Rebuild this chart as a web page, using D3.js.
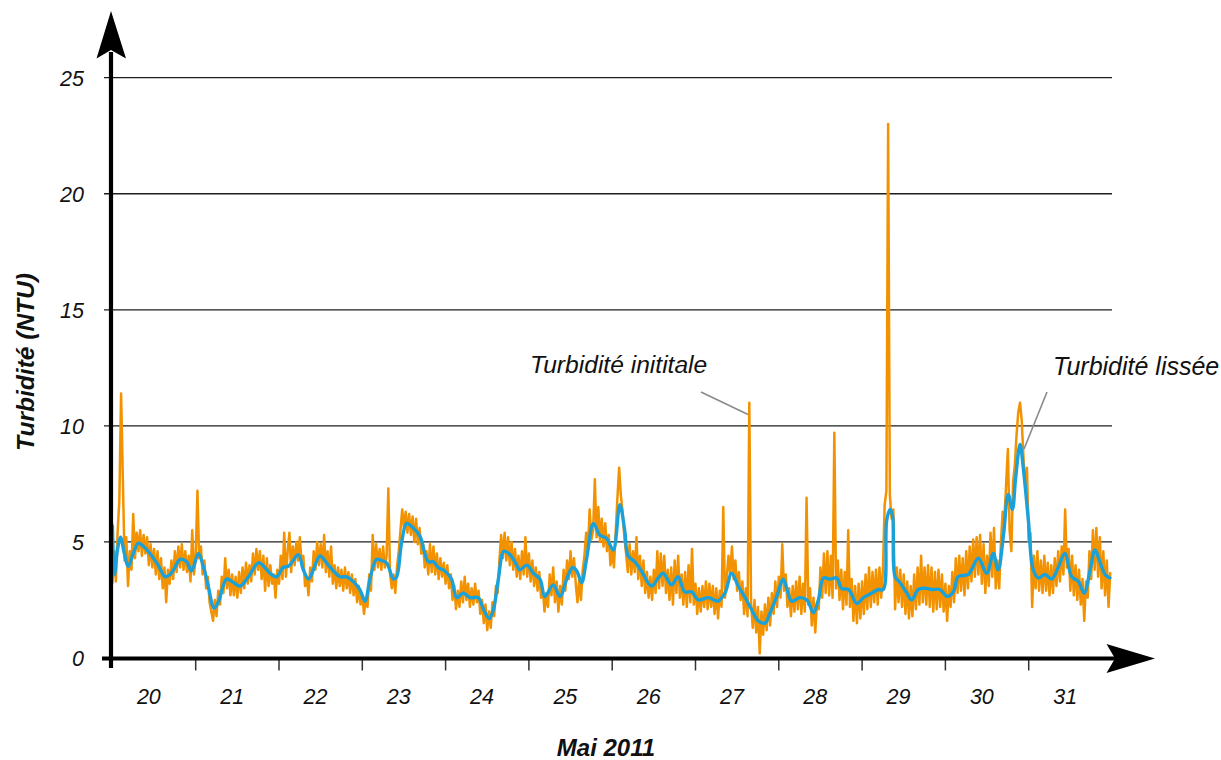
<!DOCTYPE html>
<html>
<head>
<meta charset="utf-8">
<script src="https://cdn.jsdelivr.net/npm/d3@7"></script>
<style>
  html, body { margin: 0; padding: 0; background: #fff; }
  svg text { font-family: "Liberation Sans", Arial, sans-serif; font-style: italic; fill: #111; }
</style>
</head>
<body>
<svg id="chart" width="1221" height="760"></svg>
<script>
// Day-of-month labels along the time axis (May 2011)
const dayLabels = ["20","21","22","23","24","25","26","27","28","29","30","31"];
const yTickValues = [0, 5, 10, 15, 20, 25];
const yGridValues = [5, 10, 15, 20, 25];

// Raw turbidity (NTU), one reading every 30 minutes from 20 May 00:00
const rawNTU = [
  3.2,4.6,3.3,5.4,6.8,11.4,7.8,4.2,5.2,3.1,4.6,3.8,6.2,4.3,5.4,4.6,5.5,4.4,5.3,4.5,5.2,4.0,4.9,3.9,
  4.7,3.6,4.6,3.4,4.3,3.0,3.9,2.4,3.8,3.2,4.2,3.4,4.6,3.7,4.8,3.9,4.9,3.8,4.6,3.7,4.4,3.3,5.5,3.6,
  4.4,7.2,4.3,4.8,3.6,4.2,3.0,3.5,2.4,2.0,1.6,2.5,1.8,2.9,2.3,3.5,2.8,4.3,3.0,3.8,2.7,3.6,2.7,3.5,
  2.6,3.7,2.8,3.9,3.0,4.1,3.2,4.0,3.3,4.5,3.6,4.7,3.8,4.6,3.4,4.4,2.9,4.3,3.1,4.0,3.2,3.6,2.6,3.8,
  3.2,4.4,3.4,5.4,3.5,4.6,5.4,3.7,4.8,4.0,5.0,4.2,5.2,4.1,4.4,3.1,3.5,2.7,3.9,3.3,4.6,3.8,5.0,4.0,
  4.9,3.9,5.3,3.7,4.6,3.5,4.8,3.2,4.0,3.0,3.9,3.1,3.8,2.9,3.9,3.0,3.7,2.8,3.6,2.7,3.4,2.4,3.1,2.3,
  2.7,1.9,2.6,2.2,3.6,2.9,5.3,3.8,4.9,3.9,4.7,3.8,4.8,3.9,4.4,7.3,3.6,3.0,3.6,2.8,3.9,4.6,5.5,6.4,
  5.6,6.3,5.4,6.2,5.3,6.1,5.0,6.0,4.9,5.6,4.5,4.9,3.9,4.6,3.6,4.9,3.7,4.8,3.6,4.5,3.4,4.3,3.5,4.1,
  3.2,4.0,3.0,3.6,2.5,3.1,2.1,2.9,2.2,3.3,2.4,3.5,2.5,3.2,2.2,3.0,2.3,3.2,2.4,2.9,1.9,2.5,1.5,2.3,
  1.2,2.0,1.3,2.4,1.8,3.1,2.8,4.2,5.3,4.3,5.4,4.2,5.2,4.0,5.0,3.8,4.7,3.5,4.4,3.4,4.6,3.6,5.2,3.5,
  4.5,3.3,4.2,3.1,3.9,2.9,3.7,2.6,3.0,2.0,2.8,2.2,3.6,2.7,3.9,2.4,3.3,2.0,3.1,2.3,3.8,2.9,4.2,3.4,
  4.6,3.5,4.3,3.2,2.4,3.4,2.5,3.8,4.4,5.4,4.6,6.4,5.1,5.5,7.7,5.2,6.5,5.0,6.0,4.8,5.8,4.6,5.3,4.0,
  4.6,3.9,5.4,6.9,8.2,7.0,6.3,5.2,4.5,3.7,4.9,3.6,4.6,3.7,5.2,3.4,4.4,3.1,4.2,2.8,3.7,2.6,3.5,2.5,
  3.8,2.8,4.6,3.0,4.5,3.1,4.4,2.8,3.8,2.5,3.9,2.3,4.2,2.8,4.4,2.6,3.6,2.3,3.7,2.2,4.0,2.4,4.7,2.3,
  3.2,1.9,3.0,2.0,3.1,2.2,3.3,2.1,3.2,2.2,3.1,1.9,3.0,1.7,2.9,2.2,6.5,2.6,3.5,4.4,3.6,4.8,3.4,4.2,
  2.9,3.7,2.5,3.3,1.9,3.0,1.8,11.0,2.4,1.3,2.5,1.1,2.2,0.2,2.0,1.0,2.3,1.2,2.6,1.4,2.8,1.9,3.3,2.2,
  3.5,2.6,4.9,2.9,3.6,2.2,3.0,1.8,3.1,2.0,3.3,2.1,3.5,1.9,3.2,2.0,6.9,2.3,3.0,1.4,2.6,1.1,2.4,2.1,
  3.9,2.6,4.5,2.8,4.6,2.7,4.4,2.6,9.7,3.0,4.2,2.5,3.8,2.1,3.7,2.3,5.5,2.2,3.4,1.6,3.1,1.5,3.2,1.7,
  3.3,1.9,3.6,2.1,3.9,2.2,3.7,2.4,3.8,2.3,3.9,2.6,3.8,6.6,7.2,23.0,7.0,6.0,6.4,2.1,3.9,2.4,3.8,2.2,
  3.6,1.9,3.3,1.7,3.1,1.8,3.6,2.1,3.9,2.3,4.4,2.4,3.9,2.3,4.0,2.2,3.9,2.0,3.7,2.1,3.8,2.2,3.6,2.0,
  3.2,1.6,3.1,2.2,3.7,2.4,4.3,2.8,4.4,2.9,4.3,2.7,4.6,3.0,4.8,3.3,5.1,3.5,5.2,3.6,5.3,3.2,4.9,2.8,
  4.4,3.1,5.4,3.5,5.6,3.0,4.2,3.0,5.0,6.3,6.0,7.5,9.0,5.5,4.6,7.6,8.3,9.6,10.6,11.0,10.2,8.6,7.4,8.2,
  5.0,5.4,2.2,4.4,3.0,4.6,2.9,4.2,2.8,4.4,2.9,4.1,2.7,4.0,2.8,4.3,3.1,4.6,3.3,4.8,3.6,6.4,3.9,4.7,
  2.9,4.4,2.7,4.0,2.5,3.8,2.3,3.4,1.6,3.3,2.6,4.6,3.4,5.5,3.8,5.6,3.5,5.2,3.0,4.6,2.7,4.2,2.2,3.7
];

// Smoothed turbidity: hours since 20 May 00:00 and NTU
const smoothHours = [
  0,0.6,1.5,2.4,3.3,4.6,6,7.5,9,10.8,13.2,15.2,16.6,18,19.5,21.4,22.8,24.8,26.2,27.6,29.3,30.5,32.9,34.9,36.8,39.2,42.1,44.5,
  45.4,47.3,49.2,50.7,51.6,53.6,55,56.5,57.9,59.8,61.7,63.7,65.6,67.5,69.4,71.3,72.8,74.2,76.1,77.6,79,81,81.9,83.3,84.8,86.7,88.6,91,
  92.5,93.9,95.8,97.7,99.2,101.1,103,105.4,106.9,108.6,109.8,111.2,112.8,114.6,116.5,117.4,119.4,121.3,123.2,124.6,127,129,130.9,132.6,133.8,135.2,136.6,138.6,
  140.4,142.4,144.3,146.2,147.6,148.6,150.5,152.4,155.3,157.3,158.7,161.1,163,164.9,166.9,168.8,171.7,174.5,176.5,178.4,180.3,182.7,184.1,186.1,188,
  189.5,191.4,193.3,194.3,195.7,198.1,200.1,202,203.4,204.9,206.8,208.7,210.1,212.1,214.5,216.4,218.8,220.7,222.1,223.1,224.1,224.8,225.5,226.9,228.9,230.3,232.2,234.6,
  236,238.4,240.6,242.3,243.7,246.6,249.5,251.9,253.8,255.2,256.7,258.1,259.3,260.2,261.5,262.4,263.9,265.3,266.8,268.7,270.6,272.5,274.4,276.4,278.3,280,281.7,283.1,284.5,286,287.4
];
const smoothNTU = [
  5.7,3.6,4.7,5.2,4.6,3.95,4.5,4.95,4.8,4.5,4.0,3.5,3.6,3.9,4.25,4.15,3.75,4.5,3.95,3.1,2.15,2.4,3.4,3.25,3.1,3.5,4.1,3.8,
  3.65,3.5,3.9,3.95,4.1,4.45,3.8,3.4,3.8,4.4,4.1,3.75,3.5,3.5,3.3,2.95,2.45,3.4,4.25,4.2,4.1,3.4,3.5,4.95,5.8,5.6,5.25,4.15,
  4.15,3.9,3.75,3.4,2.6,2.8,2.6,2.6,2.1,1.7,2.1,3.4,4.6,4.45,4.0,3.8,4.0,3.65,3.4,2.65,3.15,2.65,3.4,3.9,3.75,3.25,4.25,5.8,
  5.3,5.15,4.65,6.6,5.5,4.4,4.15,3.75,3.1,3.45,3.65,3.15,3.5,2.85,2.85,2.5,2.6,2.45,2.8,3.65,3.1,2.5,2.1,1.6,1.5,
  1.95,2.65,3.4,3.0,2.45,2.6,2.5,1.95,2.5,3.45,3.4,3.45,3.0,2.95,2.35,2.6,2.8,2.95,2.95,5.95,6.4,6.1,3.5,3.25,2.8,2.5,2.95,3.0,
  2.95,2.95,2.65,2.85,3.5,3.6,4.3,3.65,4.5,3.8,5.25,7.05,6.4,7.7,9.2,8.25,5.95,3.8,3.45,3.6,3.4,3.9,4.5,3.5,3.3,2.8,3.8,4.65,4.15,3.6,3.45
];

const HOUR = 3600 * 1000;
const start = new Date(Date.UTC(2011, 4, 20));
const end = new Date(Date.UTC(2011, 5, 1));

const rawSeries = rawNTU.map((v, i) => ({ t: new Date(+start + i * 0.5 * HOUR), v }));
const smoothSeries = smoothNTU.map((v, i) => ({ t: new Date(+start + smoothHours[i] * HOUR), v }));

const svg = d3.select("#chart");
svg.append("rect").attr("width", 1221).attr("height", 760).attr("fill", "#fff");

const x = d3.scaleUtc().domain([start, end]).range([112.4, 1112]);
const y = d3.scaleLinear().domain([0, 25]).range([658, 77.7]);

// Horizontal gridlines
svg.append("g").selectAll("line").data(yGridValues).join("line")
  .attr("x1", 104).attr("x2", 1112)
  .attr("y1", d => y(d)).attr("y2", d => y(d))
  .attr("stroke", "#1e1e1e").attr("stroke-width", 1.3);

// Y tick labels
svg.append("g").selectAll("text").data(yTickValues).join("text")
  .attr("x", 84).attr("y", d => y(d) + 8)
  .attr("text-anchor", "end")
  .attr("font-size", 21.5)
  .text(d => d);

// Day ticks and labels
const dayStarts = d3.utcDay.range(start, end);
svg.append("g").selectAll("line").data(dayStarts.slice(1)).join("line")
  .attr("x1", d => x(d)).attr("x2", d => x(d))
  .attr("y1", 658).attr("y2", 670.5)
  .attr("stroke", "#333").attr("stroke-width", 1.5);

svg.append("g").selectAll("text").data(dayStarts).join("text")
  .attr("x", d => x(new Date(+d + 10.5 * HOUR)))
  .attr("y", 704)
  .attr("text-anchor", "middle")
  .attr("font-size", 21.5)
  .text((d, i) => dayLabels[i]);

// Raw series
const line = d3.line().x(d => x(d.t)).y(d => y(d.v));
svg.append("path").datum(rawSeries)
  .attr("d", line)
  .attr("fill", "none")
  .attr("stroke", "#f39200")
  .attr("stroke-width", 2.5)
  .attr("stroke-linejoin", "round");

// Smoothed series
const smoothLine = d3.line().x(d => x(d.t)).y(d => y(d.v)).curve(d3.curveCatmullRom.alpha(0.5));
svg.append("path").datum(smoothSeries)
  .attr("d", smoothLine)
  .attr("fill", "none")
  .attr("stroke", "#1ba1d9")
  .attr("stroke-width", 3.4)
  .attr("stroke-linejoin", "round")
  .attr("stroke-linecap", "round");

// Axes with arrowheads
svg.append("line").attr("x1", 111).attr("x2", 111).attr("y1", 668).attr("y2", 52)
  .attr("stroke", "#000").attr("stroke-width", 4.2);
svg.append("path").attr("d", "M111,11 L126,58.5 L111,50 L96.5,58.5 Z").attr("fill", "#000");

svg.append("line").attr("x1", 102).attr("x2", 1117).attr("y1", 658.5).attr("y2", 658.5)
  .attr("stroke", "#000").attr("stroke-width", 4.2);
svg.append("path").attr("d", "M1155,658.5 L1106.5,644 L1115,658.5 L1106.5,673 Z").attr("fill", "#000");

// Axis titles
svg.append("text")
  .attr("x", 606).attr("y", 756)
  .attr("text-anchor", "middle")
  .attr("font-size", 24).attr("font-weight", "bold")
  .text("Mai 2011");

svg.append("text")
  .attr("transform", "translate(34,362) rotate(-90)")
  .attr("text-anchor", "middle")
  .attr("font-size", 24.5).attr("font-weight", "bold")
  .text("Turbidité (NTU)");

// Series annotations with leader lines
svg.append("line").attr("x1", 701).attr("y1", 392).attr("x2", 748).attr("y2", 414.5)
  .attr("stroke", "#8a8a8a").attr("stroke-width", 1.6);
svg.append("text").attr("x", 530).attr("y", 373)
  .attr("font-size", 24.6)
  .text("Turbidité inititale");

svg.append("line").attr("x1", 1047).attr("y1", 392).attr("x2", 1024).attr("y2", 449)
  .attr("stroke", "#8a8a8a").attr("stroke-width", 1.6);
svg.append("text").attr("x", 1053).attr("y", 375)
  .attr("font-size", 25)
  .text("Turbidité lissée");
</script>
</body>
</html>
